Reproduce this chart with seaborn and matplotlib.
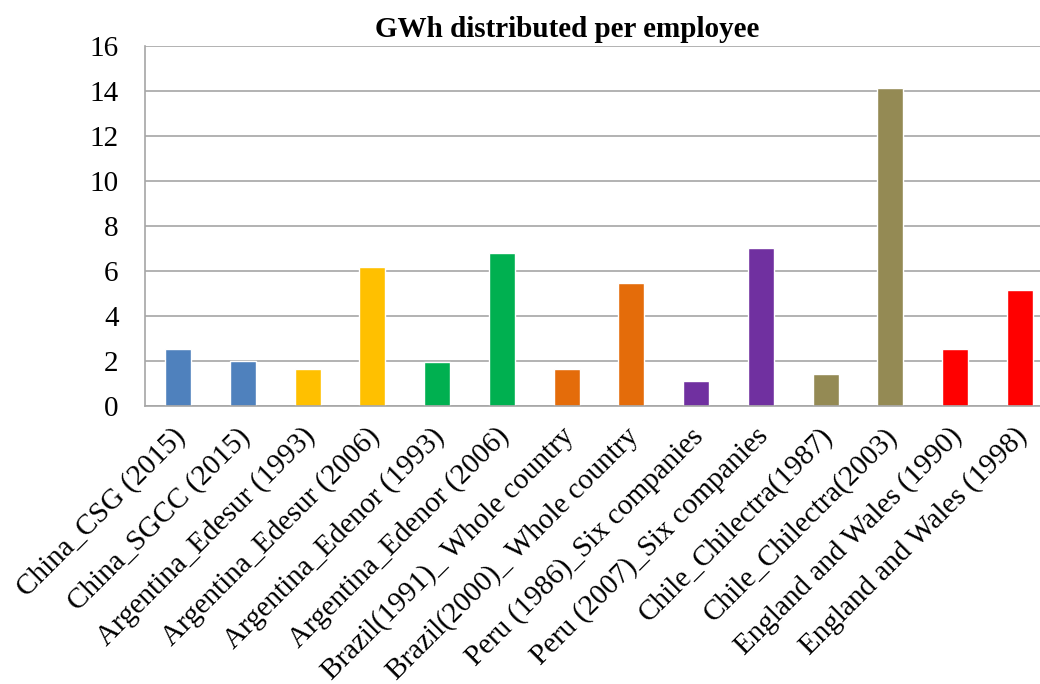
import matplotlib
matplotlib.use("Agg")
import matplotlib.pyplot as plt
import matplotlib.transforms as mtransforms
import seaborn as sns

# --- Data ---
categories = [
    "China_CSG (2015)",
    "China_SGCC (2015)",
    "Argentina_Edesur (1993)",
    "Argentina_Edesur (2006)",
    "Argentina_Edenor (1993)",
    "Argentina_Edenor (2006)",
    "Brazil(1991)_ Whole country",
    "Brazil(2000)_ Whole country",
    "Peru (1986)_Six companies",
    "Peru (2007)_Six companies",
    "Chile_Chilectra(1987)",
    "Chile_Chilectra(2003)",
    "England and Wales (1990)",
    "England and Wales (1998)",
]
values = [2.55, 2.0, 1.65, 6.2, 1.95, 6.78, 1.65, 5.47, 1.1, 7.02, 1.43, 14.13, 2.55, 5.15]
bar_colors = [
    "#4F81BD", "#4F81BD",
    "#FFC000", "#FFC000",
    "#00B050", "#00B050",
    "#E46C0A", "#E46C0A",
    "#7030A0", "#7030A0",
    "#948A54", "#948A54",
    "#FF0000", "#FF0000",
]
y_ticks = [0, 2, 4, 6, 8, 10, 12, 14, 16]

sns.set_style("white")
plt.rcParams["font.family"] = ["Liberation Serif", "DejaVu Serif"]
plt.rcParams["text.color"] = "black"
plt.rcParams["xtick.color"] = "black"
plt.rcParams["ytick.color"] = "black"

fig = plt.figure(figsize=(10.4, 6.84), dpi=100)
ax = fig.add_axes([145 / 1040, 1 - 406 / 684, 1 - 145 / 1040, (406 - 46) / 684])

sns.barplot(x=categories, y=values, hue=categories, palette=bar_colors,
            width=0.4, legend=False, saturation=1, ax=ax)

ax.set_ylim(0, 16)
ax.set_yticks(y_ticks)
ax.set_xlim(-0.51, 13.31)
ax.yaxis.grid(True, color="#A6A6A6", linewidth=1.2)
ax.set_axisbelow(True)
for side in ["top", "right"]:
    ax.spines[side].set_visible(False)
for side in ["left", "bottom"]:
    ax.spines[side].set_color("#A6A6A6")
    ax.spines[side].set_linewidth(1.2)

ax.tick_params(axis="y", length=0, pad=19, labelsize=21)
ax.tick_params(axis="x", length=0, pad=19)
ax.set_xticks(range(len(categories)))
ax.set_xticklabels(categories, rotation=45, ha="right", va="center",
                   rotation_mode="anchor", fontsize=21)
offset = mtransforms.ScaledTranslation(0.03, 0, fig.dpi_scale_trans)
for lbl in ax.get_xticklabels():
    lbl.set_transform(lbl.get_transform() + offset)

ax.set_xlabel("")
ax.set_ylabel("")
fig.text(567 / 1040, 1 - 37 / 684, "GWh distributed per employee",
         ha="center", va="baseline", fontsize=21, fontweight="bold")

fig.savefig("out.png", dpi=100)
